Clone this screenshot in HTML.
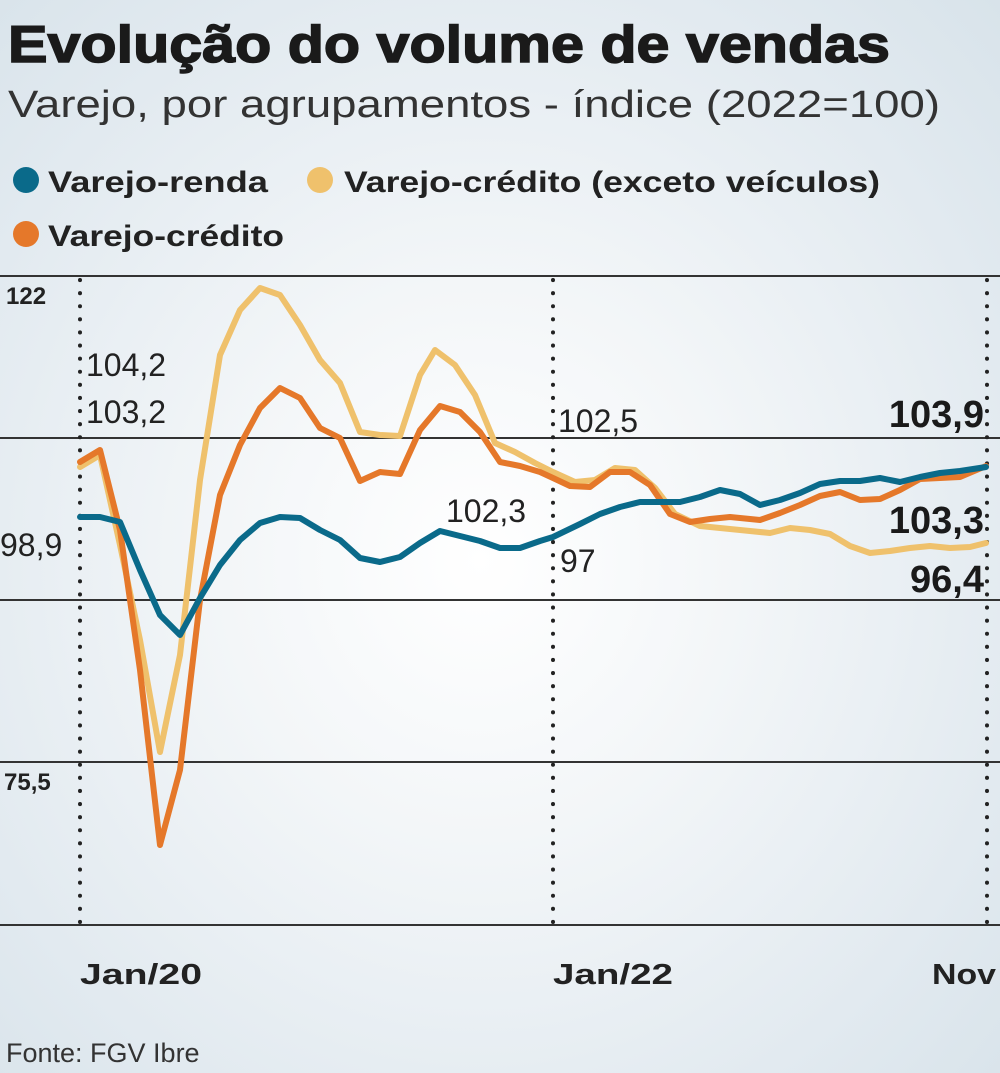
<!DOCTYPE html>
<html><head><meta charset="utf-8"><style>
html,body{margin:0;padding:0}
body{width:1000px;height:1073px;overflow:hidden;background:radial-gradient(ellipse at 480px 560px,#ffffff 0%,#f3f6f8 35%,#e2eaf0 75%,#d8e3ea 100%);font-family:"Liberation Sans",sans-serif;position:relative}
</style></head><body>
<svg width="1000" height="1073" style="position:absolute;left:0;top:0">
<text x="8" y="62" font-family="Liberation Sans" font-weight="bold" font-size="52" fill="#1a1a1a" stroke="#1a1a1a" stroke-width="1.5" textLength="882" lengthAdjust="spacingAndGlyphs">Evolução do volume de vendas</text>
<text x="8" y="117" font-family="Liberation Sans" font-size="38" fill="#333" textLength="932" lengthAdjust="spacingAndGlyphs">Varejo, por agrupamentos - índice (2022=100)</text>
<circle cx="26" cy="180" r="13" fill="#0a6a8a"/>
<text x="48" y="192" font-weight="bold" font-size="30" fill="#222" textLength="220" lengthAdjust="spacingAndGlyphs">Varejo-renda</text>
<circle cx="320" cy="180" r="13" fill="#efc16c"/>
<text x="344" y="192" font-weight="bold" font-size="30" fill="#222" textLength="536" lengthAdjust="spacingAndGlyphs">Varejo-crédito (exceto veículos)</text>
<circle cx="26" cy="234" r="13" fill="#e5782a"/>
<text x="48" y="246" font-weight="bold" font-size="30" fill="#222" textLength="236" lengthAdjust="spacingAndGlyphs">Varejo-crédito</text>
<g stroke="#333" stroke-width="2">
<line x1="0" y1="276" x2="1000" y2="276"/><line x1="0" y1="438" x2="1000" y2="438"/>
<line x1="0" y1="600" x2="1000" y2="600"/><line x1="0" y1="762" x2="1000" y2="762"/>
<line x1="0" y1="925" x2="1000" y2="925"/>
</g>
<g stroke="#222" stroke-width="4" stroke-dasharray="0.1 13" stroke-linecap="round">
<line x1="80" y1="280" x2="80" y2="925"/><line x1="553" y1="280" x2="553" y2="925"/><line x1="987" y1="280" x2="987" y2="925"/>
</g>
<g fill="none" stroke-width="6" stroke-linejoin="round" stroke-linecap="round">
<polyline stroke="#efc16c" points="80,467 100,455 120,545 140,640 160,752 180,655 200,480 220,355 240,310 260,288 280,295 300,325 320,360 340,383 360,432 380,435 400,436 420,375 435,350 455,365 475,395 495,443 515,452 535,463 553,472 575,482 595,480 615,468 635,470 655,488 675,514 700,526 720,528 740,530 770,533 790,528 810,530 830,534 850,546 870,553 890,551 910,548 930,546 950,548 970,547 986,543"/>
<polyline stroke="#e5782a" points="80,462 100,450 120,530 140,670 160,845 180,770 200,600 220,495 240,445 260,408 280,388 300,398 320,428 340,438 360,481 380,472 400,474 420,430 440,406 460,412 480,432 500,462 520,466 540,472 553,478 570,486 590,487 610,472 630,472 650,485 670,514 690,522 710,519 730,517 760,520 780,513 800,505 820,496 840,492 860,500 880,499 900,490 920,479 940,478 960,477 986,466"/>
<polyline stroke="#0a6a8a" points="80,517 100,517 120,522 140,570 160,615 180,635 200,598 220,565 240,540 260,523 280,517 300,518 320,530 340,540 360,558 380,562 400,557 420,543 440,531 460,536 480,541 500,548 520,548 540,541 553,537 580,524 600,514 620,507 640,502 660,502 680,502 700,497 720,490 740,494 760,505 780,500 800,493 820,484 840,481 860,481 880,478 900,482 920,477 940,473 960,471 986,467"/>
</g>
<g font-size="32" fill="#222">
<text x="86" y="376">104,2</text><text x="86" y="423">103,2</text>
<text x="0" y="556">98,9</text>
<text x="446" y="522">102,3</text>
<text x="558" y="432">102,5</text>
<text x="560" y="572">97</text>
</g>
<g font-size="24" font-weight="bold" fill="#222">
<text x="6" y="304">122</text><text x="4" y="790">75,5</text>
</g>
<g font-size="29" font-weight="bold" fill="#222">
<text x="80" y="984" textLength="122" lengthAdjust="spacingAndGlyphs">Jan/20</text><text x="553" y="984" textLength="120" lengthAdjust="spacingAndGlyphs">Jan/22</text><text x="932" y="984" textLength="64" lengthAdjust="spacingAndGlyphs">Nov</text>
</g>
<g font-size="38" font-weight="bold" fill="#1a1a1a" text-anchor="end">
<text x="984" y="427">103,9</text><text x="984" y="533">103,3</text><text x="984" y="592">96,4</text>
</g>
<text x="6" y="1062" font-size="27" fill="#333">Fonte: FGV Ibre</text>
</svg>
</body></html>
